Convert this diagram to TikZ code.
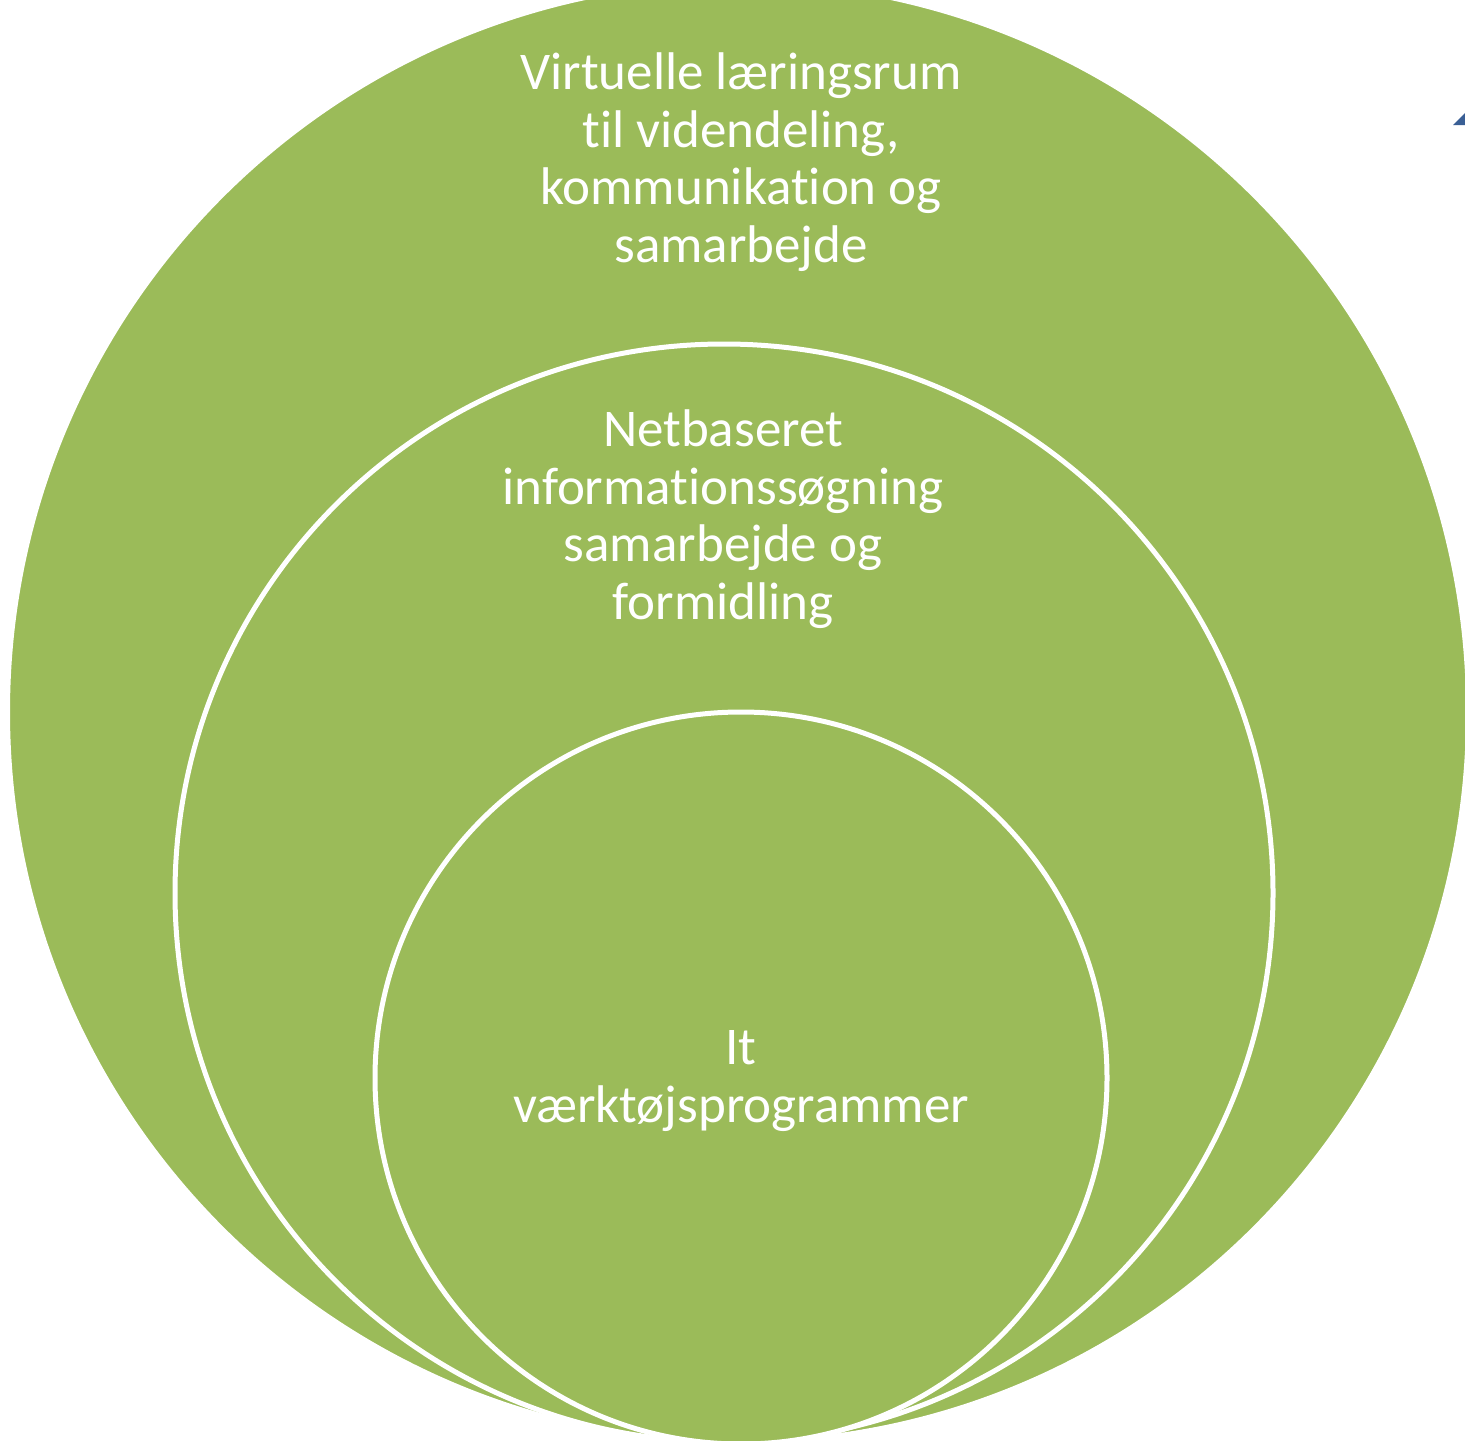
\documentclass[tikz,border=0pt]{standalone}
\usepackage{fontspec}
\setmainfont[Ligatures={NoCommon}]{Carlito}
\definecolor{leaf}{HTML}{9BBB59}
\definecolor{navy}{HTML}{3A5F95}
\begin{document}
\begin{tikzpicture}[x=0.5pt,y=-0.5pt,
  ring/.style={fill=leaf,draw=white,line width=2.5pt},
  label/.style={text=white,align=center,font=\fontsize{26.5}{28.75}\selectfont,inner sep=0pt}]
\useasboundingbox (0,0) rectangle (1465,1440);
\clip (0,0) rectangle (1465,1440);
\fill[white] (0,0) rectangle (1465,1440);
\draw[fill=leaf,draw=white,line width=1pt] (738,712) circle[radius=729];
\draw[ring] (724,893) circle[radius=549];
\draw[ring] (741,1078) circle[radius=366];
\fill[navy] (1453,125) -- (1466,112) -- (1466,125) -- cycle;
\node[label] (outer) at (741,162) {Virtuelle læringsrum\\til videndeling,\\kommunikation og\\samarbejde};
\node[label] (middle) at (723,519) {Netbaseret\\informationssøgning\\samarbejde og\\formidling};
\node[label] (inner) at (741,1081) {It\\værktøjsprogrammer};
\end{tikzpicture}
\end{document}
